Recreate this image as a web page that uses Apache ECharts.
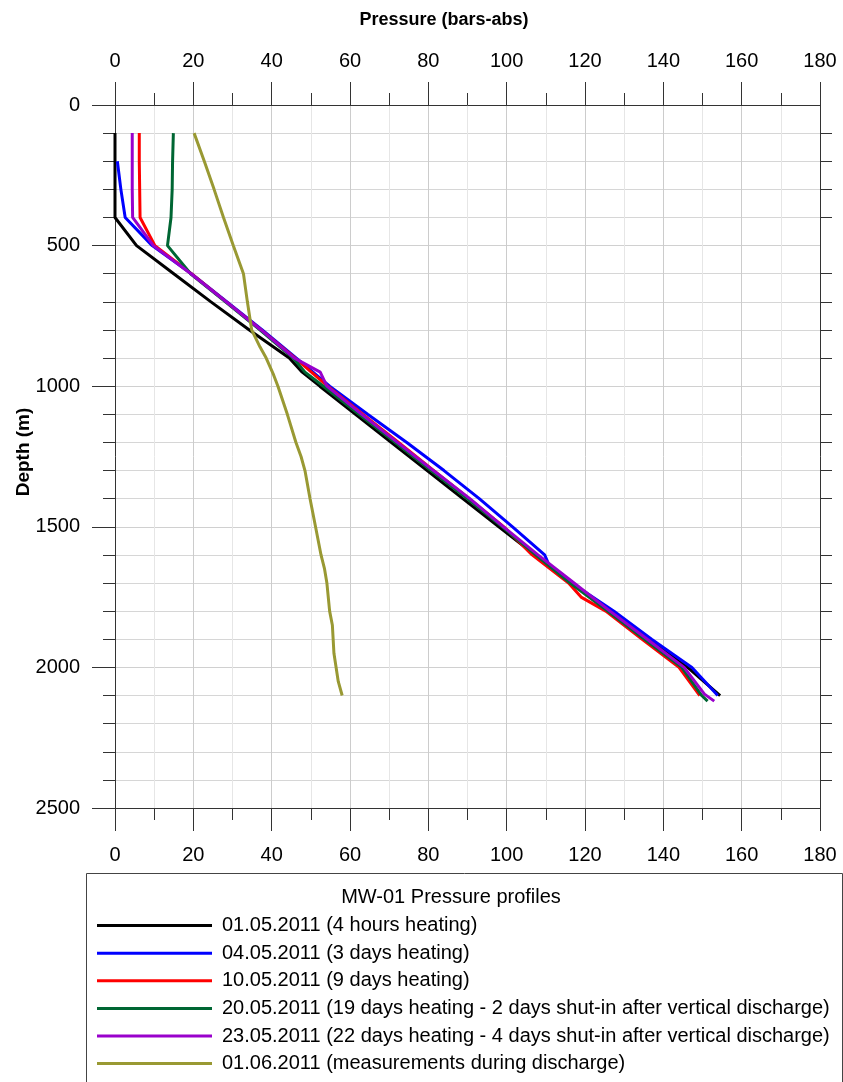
<!DOCTYPE html>
<html>
<head>
<meta charset="utf-8">
<title>MW-01 Pressure profiles</title>
<script src="https://cdn.jsdelivr.net/npm/echarts@6/dist/echarts.min.js"></script>
<style>
  html, body { margin: 0; padding: 0; background: #ffffff; }
  #chart { width: 843px; height: 1082px; }
</style>
</head>
<body>
<div id="chart"></div>
<script>
// Pressure profiles of well MW-01: each point is [pressure (bars-abs), depth (m)]
const seriesNames = [
  '01.05.2011 (4 hours heating)',
  '04.05.2011 (3 days heating)',
  '10.05.2011 (9 days heating)',
  '20.05.2011 (19 days heating - 2 days shut-in after vertical discharge)',
  '23.05.2011 (22 days heating - 4 days shut-in after vertical discharge)',
  '01.06.2011 (measurements during discharge)'
];

const profile0105 = [
  [0, 100], [0, 200], [0, 300], [0, 400], [5.5, 500], [15, 600], [24.5, 700],
  [34.3, 800], [44.5, 900], [47.8, 950], [52.3, 1000], [61.4, 1100], [70.5, 1200],
  [79.7, 1300], [88.8, 1400], [98, 1500], [107.2, 1600], [116.4, 1700],
  [126.5, 1800], [136.3, 1900], [146.2, 2000], [154.5, 2100]
];

const profile0405 = [
  [0.6, 200], [1.5, 300], [2.6, 400], [9.5, 500], [19.5, 600], [28.6, 700],
  [37.6, 800], [46.3, 900], [54.8, 1000], [64.5, 1100], [74.5, 1200], [84, 1300],
  [93, 1400], [101.5, 1500], [109.7, 1600], [110.8, 1635], [116.6, 1700],
  [127.4, 1800], [137, 1900], [147.3, 2000], [153.9, 2100]
];

const profile1005 = [
  [6.2, 100], [6.2, 200], [6.3, 300], [6.4, 400], [10.2, 500], [19.5, 600],
  [28.4, 700], [37.3, 800], [46, 900], [54.3, 1000], [63.3, 1100], [72.4, 1200],
  [81.4, 1300], [90.4, 1400], [99.3, 1500], [106.5, 1600], [115.8, 1700],
  [119, 1750], [125.3, 1800], [134.6, 1900], [144, 2000], [149.3, 2100]
];

const profile2005 = [
  [14.9, 100], [14.7, 200], [14.6, 300], [14.3, 400], [13.4, 500], [19.3, 600],
  [28.2, 700], [37, 800], [45.5, 900], [48.5, 950], [53.2, 1000], [62.3, 1100],
  [71.5, 1200], [80.7, 1300], [89.9, 1400], [98.9, 1500], [107.4, 1600],
  [116.2, 1700], [125.8, 1800], [135.2, 1900], [144.7, 2000], [149.8, 2100],
  [151.3, 2120]
];

const profile2305 = [
  [4.4, 100], [4.4, 200], [4.4, 300], [4.5, 400], [9.8, 500], [19.4, 600],
  [28.4, 700], [37.3, 800], [45.8, 900], [52.4, 950], [54.1, 1000], [63, 1100],
  [72.1, 1200], [81.3, 1300], [90.6, 1400], [99.2, 1500], [108, 1600],
  [117.2, 1700], [126.4, 1800], [135.9, 1900], [145.3, 2000], [150.5, 2095],
  [153, 2120]
];

const profile0106 = [
  [20.2, 100], [22.8, 200], [25.3, 300], [27.7, 400], [30.2, 500], [32.8, 600],
  [33.8, 700], [34.9, 800], [37, 860], [38.6, 900], [40.5, 960], [41.6, 1000],
  [44, 1100], [46.2, 1200], [47.5, 1250], [48.5, 1300], [49.8, 1400],
  [51.2, 1500], [52.6, 1600], [53.5, 1650], [54.1, 1700], [54.8, 1800],
  [55.5, 1850], [55.9, 1950], [57, 2050], [58, 2100]
];

const profiles = [profile0105, profile0405, profile1005, profile2005, profile2305, profile0106];
const lineColors = ['#000000', '#0000ff', '#ff0000', '#006633', '#9900cc', '#999933'];

const FONT = '"Liberation Sans", Arial, sans-serif';
const AXIS_COLOR = '#333333';

function plainNumber(v) { return String(v); }

function pressureAxis(position, withGrid, labelMargin) {
  return {
    type: 'value',
    position: position,
    min: 0,
    max: 180,
    interval: 20,
    axisLine: { show: true, onZero: false, lineStyle: { color: AXIS_COLOR, width: 1 } },
    axisTick: { show: true, inside: false, length: 23, lineStyle: { color: AXIS_COLOR, width: 1 } },
    minorTick: { show: true, splitNumber: 2, length: 12, lineStyle: { color: AXIS_COLOR, width: 1 } },
    axisLabel: { show: true, fontSize: 20, color: '#000', fontFamily: FONT, margin: labelMargin, formatter: plainNumber },
    splitLine: { show: withGrid, lineStyle: { color: '#cccccc', width: 1 } },
    minorSplitLine: { show: withGrid, lineStyle: { color: '#e6e6e6', width: 1 } }
  };
}

const chart = echarts.init(document.getElementById('chart'), null, { renderer: 'canvas' });

chart.setOption({
  animation: false,
  backgroundColor: '#ffffff',
  grid: { left: 115, top: 105, width: 705, height: 703, containLabel: false },
  xAxis: [
    pressureAxis('bottom', true, 37),
    pressureAxis('top', false, 34)
  ],
  yAxis: [
    {
      type: 'value',
      position: 'left',
      inverse: true,
      min: 0,
      max: 2500,
      interval: 500,
      axisLine: { show: true, onZero: false, lineStyle: { color: AXIS_COLOR, width: 1 } },
      axisTick: { show: true, inside: false, length: 23, lineStyle: { color: AXIS_COLOR, width: 1 } },
      minorTick: { show: true, splitNumber: 5, length: 12, lineStyle: { color: AXIS_COLOR, width: 1 } },
      axisLabel: { show: true, fontSize: 20, color: '#000', fontFamily: FONT, margin: 35, formatter: plainNumber },
      splitLine: { show: true, lineStyle: { color: '#d0d0d0', width: 1 } },
      minorSplitLine: { show: true, lineStyle: { color: '#d6d6d6', width: 1 } }
    },
    {
      type: 'value',
      position: 'right',
      inverse: true,
      min: 0,
      max: 2500,
      interval: 500,
      axisLine: { show: true, onZero: false, lineStyle: { color: AXIS_COLOR, width: 1 } },
      axisTick: { show: false },
      minorTick: { show: true, splitNumber: 5, length: 12, lineStyle: { color: AXIS_COLOR, width: 1 } },
      axisLabel: { show: false },
      splitLine: { show: false },
      minorSplitLine: { show: false }
    }
  ],
  legend: {
    orient: 'vertical',
    left: 97,
    top: 915.6,
    height: 220,
    padding: 0,
    icon: 'rect',
    itemWidth: 115,
    itemHeight: 3,
    itemGap: 7.6,
    selectedMode: false,
    z: 10,
    textStyle: { fontSize: 20, lineHeight: 20, color: '#000', fontFamily: FONT, padding: [0, 0, 0, 5] },
    data: seriesNames
  },
  graphic: [
    {
      type: 'rect',
      silent: true,
      z: 1,
      shape: { x: 86.5, y: 873.5, width: 756, height: 300 },
      style: { fill: '#ffffff', stroke: '#444444', lineWidth: 1 }
    },
    {
      type: 'text',
      silent: true,
      z: 2,
      x: 451,
      y: 897,
      style: {
        text: 'MW-01 Pressure profiles',
        fontSize: 20, fontFamily: FONT, fill: '#000',
        align: 'center', verticalAlign: 'middle'
      }
    },
    {
      type: 'text',
      silent: true,
      x: 444,
      y: 20,
      style: {
        text: 'Pressure (bars-abs)',
        fontSize: 18, fontWeight: 'bold', fontFamily: FONT, fill: '#000',
        align: 'center', verticalAlign: 'middle'
      }
    },
    {
      type: 'text',
      silent: true,
      x: 24,
      y: 452,
      rotation: Math.PI / 2,
      style: {
        text: 'Depth (m)',
        fontSize: 19, fontWeight: 'bold', fontFamily: FONT, fill: '#000',
        align: 'center', verticalAlign: 'middle'
      }
    }
  ],
  series: profiles.map(function (points, i) {
    return {
      name: seriesNames[i],
      type: 'line',
      xAxisIndex: 0,
      yAxisIndex: 0,
      data: points,
      symbol: 'none',
      showSymbol: false,
      smooth: false,
      color: lineColors[i],
      itemStyle: { color: lineColors[i] },
      lineStyle: { color: lineColors[i], width: 3 },
      emphasis: { disabled: true }
    };
  })
});
</script>
</body>
</html>
